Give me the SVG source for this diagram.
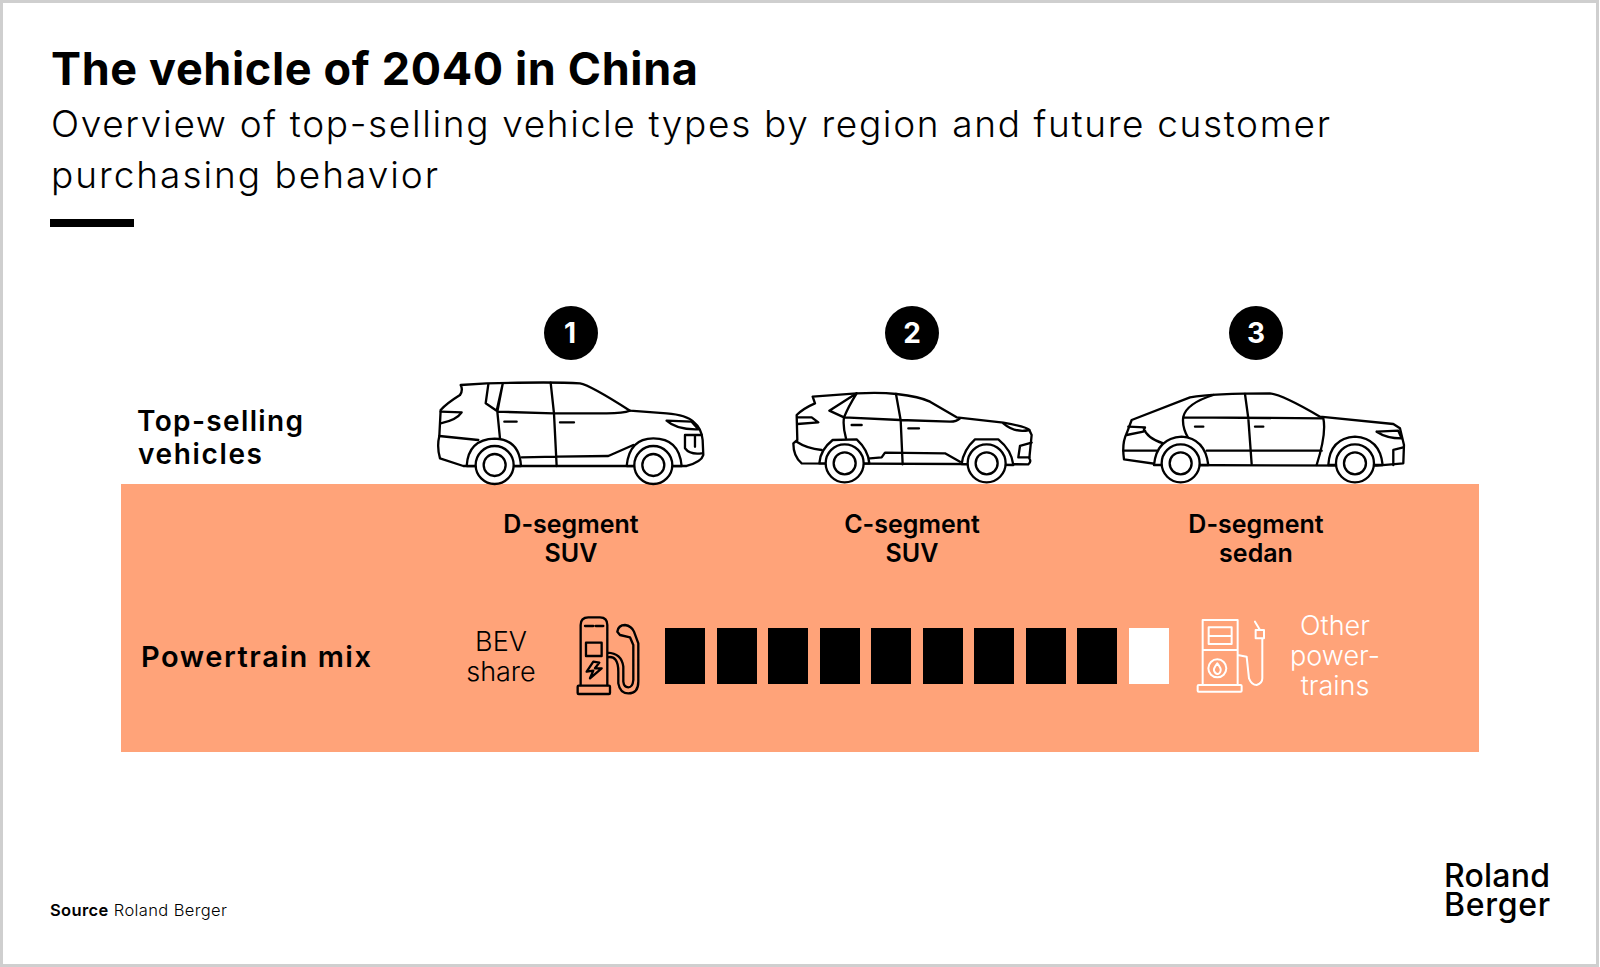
<svg xmlns="http://www.w3.org/2000/svg" width="1600" height="967" viewBox="0 0 1600 967">
<style>
text{font-family:"Inter","Liberation Sans",sans-serif;fill:#000}
.b{font-weight:700}.s{font-weight:600}.r{font-weight:300}
.m{text-anchor:middle}
.l{fill:none;stroke:#000;stroke-width:7;stroke-linecap:round;stroke-linejoin:round}
.f{fill:#fff;stroke:#000;stroke-width:7;stroke-linejoin:round}
.w{fill:none;stroke:#fff;stroke-width:6;stroke-linecap:round;stroke-linejoin:round}
.block{fill:#000}
.badge{fill:#000}
.bt{fill:#fff;font-weight:700;font-size:28px;text-anchor:middle}
</style>
<defs>
<g id="wheelA"><circle r="57" class="f"/><circle r="33" class="f"/></g>
</defs>
<rect x="1.5" y="1.5" width="1596" height="964" fill="#fff" stroke="#cfcfcf" stroke-width="3"/>
<g id="header">
<text class="b" x="51" y="85" font-size="45" textLength="647" lengthAdjust="spacing">The vehicle of 2040 in China</text>
<text class="r" x="51" y="137" font-size="37" textLength="1279" lengthAdjust="spacing">Overview of top-selling vehicle types by region and future customer</text>
<text class="r" x="51" y="188" font-size="37" textLength="387" lengthAdjust="spacing">purchasing behavior</text>
<rect x="50" y="219" width="84" height="8"/>
</g>
<rect id="band" x="121" y="484" width="1358" height="268" fill="#ffa379"/>
<g id="badge-1"><circle class="badge" cx="571" cy="333" r="27"/><text class="bt" x="570" y="343">1</text></g>
<g id="badge-2"><circle class="badge" cx="912" cy="333" r="27"/><text class="bt" x="912" y="343">2</text></g>
<g id="badge-3"><circle class="badge" cx="1256" cy="333" r="27"/><text class="bt" x="1256" y="343">3</text></g>
<g id="row-labels">
<text class="s" x="137" y="431" font-size="28" textLength="166" lengthAdjust="spacing">Top-selling</text>
<text class="s" x="138" y="464" font-size="28" textLength="124" lengthAdjust="spacing">vehicles</text>
<text class="s" x="141" y="667" font-size="29" textLength="230" lengthAdjust="spacing">Powertrain mix</text>
</g>
<g id="car-1" transform="translate(420 360) scale(.3333)">
<path class="l" fill="#fff" d="M122,75L200,70Q400,65 480,70Q510,75 630,152L740,160Q800,165 820,185Q845,205 848,240L850,285Q845,305 800,318L130,318L60,295Q50,260 58,228L62,150Q80,130 120,105Q130,90 122,75Z"/>
<path class="l" d="M205,73L197,130L230,152L248,72M248,72L232,155L240,235M232,155L400,160L560,160Q610,160 630,152M392,68L402,160L410,318M253,185H290M420,187H462M62,155L125,157Q110,180 62,190M58,228L175,240M305,292L410,290L565,288L640,255M740,182L815,185L835,208Q770,210 740,182M795,225V265Q810,285 845,280M795,225H845M825,225V260"/>
<path class="f" d="M140,318Q145,238 224,236Q298,238 303,318Z"/><path class="f" d="M620,318Q628,235 700,235Q778,235 785,318Z"/>
<use href="#wheelA" x="224" y="315"/><use href="#wheelA" x="700" y="315"/>
</g>
<g id="car-2" transform="translate(770 370) scale(.3333)">
<path class="l" d="M128,80L260,70Q330,66 380,72Q450,80 480,95L560,142L700,158Q770,170 778,180L785,195L778,265Q785,275 775,283L95,280Q70,260 70,220L82,210L80,135Q100,115 135,100Z"/>
<path class="l" d="M260,70L178,122L222,142M260,70Q235,110 222,142Q218,170 228,205M222,142L390,150L540,155Q560,155 570,145M378,72L392,150L398,283M245,165H275M415,175H447M82,142H125L145,157L82,162M80,215Q110,235 155,240M300,265L335,262L345,248L525,250L570,275M700,160Q735,190 778,180M785,218L750,228L745,262H778"/>
<path class="f" d="M148,280Q150,240 188,210L260,208Q295,240 298,280Z"/><path class="f" d="M575,282Q580,240 615,208L685,208Q725,240 730,285Z"/>
<use href="#wheelA" x="224" y="280"/><use href="#wheelA" x="650" y="280"/>
</g>
<g id="car-3" transform="translate(1100 370) scale(.3333)">
<path class="l" d="M95,150L270,82Q340,70 510,70Q550,75 660,140L880,162L900,175L912,225L910,280L830,287L190,285L72,268Q65,220 80,190Z"/>
<path class="l" d="M340,75Q260,100 250,140Q245,170 265,205M250,142L670,145M435,72L445,145L455,282M670,145Q680,190 650,285M285,170H310M465,170H490M85,170L135,172L130,185L80,195M130,172Q140,205 190,220M70,242H170M320,242H665M830,185L895,182L905,205Q860,205 830,185M910,232L880,240V285"/>
<path class="f" d="M162,285Q170,205 245,200Q315,205 325,285Z"/><path class="f" d="M685,285Q690,205 765,200Q840,205 848,285Z"/>
<use href="#wheelA" x="242" y="280"/><use href="#wheelA" x="765" y="280"/>
</g>
<g id="car-labels" font-size="25">
<text class="s m" x="571" y="533">D-segment</text><text class="s m" x="571" y="562">SUV</text>
<text class="s m" x="912" y="533">C-segment</text><text class="s m" x="912" y="562">SUV</text>
<text class="s m" x="1256" y="533">D-segment</text><text class="s m" x="1256" y="562">sedan</text>
</g>
<g id="bev-label" font-size="27"><text class="r m" x="501" y="651">BEV</text><text class="r m" x="501" y="681">share</text></g>
<g id="bev-pump" transform="translate(450 600) scale(.3333)">
<path class="l" d="M392,255V75Q392,52 415,52H450Q472,52 472,75V255M405,78H430M437,78H460M408,128H455V168H408ZM430,185L410,215L430,212L420,235L455,205L435,205L448,188ZM472,172Q505,165 505,215V250Q510,280 535,280Q565,280 565,245V130L552,95Q545,78 525,75Q505,75 502,95L510,105L540,112L550,135V240Q548,262 535,262Q522,262 520,245V200Q515,160 472,158"/>
<rect class="l" x="383" y="257" width="97" height="25" rx="3"/>
</g>
<g id="mix-bar">
<rect class="block" x="665" y="628" width="40" height="56"/><rect class="block" x="717" y="628" width="40" height="56"/><rect class="block" x="768" y="628" width="40" height="56"/><rect class="block" x="820" y="628" width="40" height="56"/><rect class="block" x="871" y="628" width="40" height="56"/><rect class="block" x="923" y="628" width="40" height="56"/><rect class="block" x="974" y="628" width="40" height="56"/><rect class="block" x="1026" y="628" width="40" height="56"/><rect class="block" x="1077" y="628" width="40" height="56"/><rect x="1129" y="628" width="40" height="56" fill="#fff"/>
</g>
<g id="other-pump" transform="translate(1110 600) scale(.3333)">
<path class="w" d="M278,255V60H383V255M296,82H365V132H296ZM296,108H365M278,150H383M383,165L410,170L417,235Q425,255 440,255Q457,250 457,235V115M437,115V90H462V115ZM435,65L450,90"/>
<rect class="w" x="263" y="255" width="132" height="20" rx="3"/>
<circle class="w" cx="322" cy="205" r="27"/>
<path class="w" d="M322,190Q310,205 312,212Q316,222 322,222Q330,222 332,212Q334,205 322,190Z"/>
</g>
<g id="other-label" font-size="27" style="fill:#fff"><text class="r m" x="1335" y="635" style="fill:#fff">Other</text><text class="r m" x="1335" y="665" style="fill:#fff">power-</text><text class="r m" x="1335" y="695" style="fill:#fff">trains</text></g>
<g id="footer">
<text x="50" y="916" font-size="16.5" textLength="177" lengthAdjust="spacing"><tspan class="s">Source</tspan><tspan class="r"> Roland Berger</tspan></text>
<text x="1444" y="887" font-size="32" font-weight="500" textLength="106" lengthAdjust="spacing">Roland</text>
<text x="1444" y="916" font-size="32" font-weight="500" textLength="106" lengthAdjust="spacing">Berger</text>
</g>
</svg>
